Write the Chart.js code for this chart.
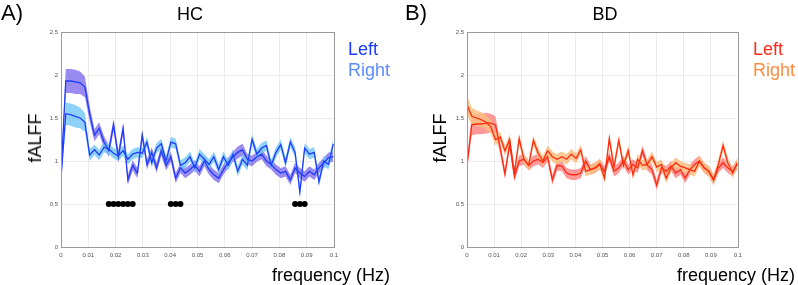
<!DOCTYPE html>
<html>
<head>
<meta charset="utf-8">
<script src="https://cdn.jsdelivr.net/npm/chart.js@4.4.0/dist/chart.umd.min.js"></script>
<style>
  body { margin: 0; background: #fff; }
  #wrap { position: relative; width: 798px; height: 285px; overflow: hidden; font-family: "Liberation Sans", Arial, sans-serif; }
  canvas { position: absolute; top: 0; }
  .lbl { position: absolute; white-space: nowrap; font-size: 18px; line-height: 18px; color: #000; }
  .ylab { transform: translate(-50%, -50%) rotate(-90deg); }
  .title { transform: translateX(-50%); }
</style>
</head>
<body>
<div id="wrap">
  <canvas id="chartHC" width="399" height="285" style="left:0"></canvas>
  <canvas id="chartBD" width="398" height="285" style="left:400px"></canvas>

  <div class="lbl" style="left:1px; top:2px; font-size:22px; line-height:22px">A)</div>
  <div class="lbl title" style="left:190px; top:5px">HC</div>
  <div class="lbl" style="left:348px; top:40px; color:#1a3cff">Left</div>
  <div class="lbl" style="left:348px; top:61px; color:#5b8cff">Right</div>
  <div class="lbl ylab" style="left:35px; top:138px">fALFF</div>
  <div class="lbl" style="left:272px; top:266px">frequency (Hz)</div>

  <div class="lbl" style="left:405px; top:2px; font-size:22px; line-height:22px">B)</div>
  <div class="lbl title" style="left:605px; top:5px">BD</div>
  <div class="lbl" style="left:753px; top:40px; color:#ff2a1a">Left</div>
  <div class="lbl" style="left:753px; top:61px; color:#ff8c3c">Right</div>
  <div class="lbl ylab" style="left:440px; top:138px">fALFF</div>
  <div class="lbl" style="left:677px; top:266px">frequency (Hz)</div>
</div>

<script>
const freqs = [
  0, 0.00175, 0.0035, 0.00525, 0.007, 0.00875, 0.0105, 0.01225, 0.014, 0.01575,
  0.0175, 0.01925, 0.021, 0.02275, 0.0245, 0.02625, 0.028, 0.02975, 0.0315, 0.03325,
  0.035, 0.03675, 0.0385, 0.04025, 0.042, 0.04375, 0.0455, 0.04725, 0.049, 0.05075,
  0.0525, 0.05425, 0.056, 0.05775, 0.0595, 0.06125, 0.063, 0.06475, 0.0665, 0.06825,
  0.07, 0.07175, 0.0735, 0.07525, 0.077, 0.07875, 0.0805, 0.08225, 0.084, 0.08575,
  0.0875, 0.08925, 0.091, 0.09275, 0.0945, 0.09625, 0.098, 0.09975
];

// significant left vs right differences (HC)
const sigFreqs = [0.0175, 0.01925, 0.021, 0.02275, 0.0245, 0.02625, 0.04025, 0.042, 0.04375, 0.08575, 0.0875, 0.08925];

const hcLeft = [
  0.84, 1.93, 1.93, 1.92, 1.91, 1.86, 1.55, 1.30, 1.38, 1.22,
  1.12, 1.42, 1.05, 1.38, 0.78, 0.95, 0.86, 1.30, 0.96, 1.10,
  0.92, 1.12, 0.95, 1.05, 0.80, 0.92, 0.86, 0.90, 0.95, 0.88,
  1.00, 0.90, 0.84, 0.80, 0.90, 0.98, 1.05, 1.10, 1.13, 1.02,
  1.00, 1.05, 1.08, 1.00, 0.96, 0.90, 0.86, 0.88, 0.78, 0.92,
  0.86, 0.82, 0.88, 0.84, 0.92, 0.98, 1.04, 1.05
];
const hcLeftSem = [
  0.03, 0.14, 0.14, 0.14, 0.13, 0.12, 0.09, 0.07, 0.07, 0.07,
  0.07, 0.07, 0.07, 0.06, 0.06, 0.06, 0.06, 0.06, 0.06, 0.06,
  0.06, 0.06, 0.06, 0.06, 0.06, 0.06, 0.06, 0.06, 0.06, 0.06,
  0.06, 0.06, 0.06, 0.06, 0.06, 0.06, 0.06, 0.07, 0.07, 0.06,
  0.06, 0.06, 0.06, 0.06, 0.06, 0.06, 0.06, 0.06, 0.06, 0.06,
  0.06, 0.06, 0.06, 0.06, 0.06, 0.06, 0.06, 0.06
];
const hcRight = [
  0.80, 1.55, 1.54, 1.52, 1.50, 1.45, 1.07, 1.13, 1.07, 1.16,
  1.14, 1.09, 1.06, 1.12, 1.02, 1.08, 1.10, 1.09, 1.22, 0.98,
  1.15, 1.20, 1.00, 1.22, 1.20, 0.95, 0.98, 1.05, 0.92, 1.08,
  1.02, 0.96, 1.05, 0.90, 1.05, 0.95, 1.08, 0.88, 1.02, 0.95,
  1.25, 1.08, 1.15, 1.18, 0.95, 1.10, 1.19, 0.98, 1.22, 1.10,
  0.64, 1.15, 1.08, 1.10, 0.76, 1.00, 0.96, 1.20
];
const hcRightSem = [
  0.03, 0.13, 0.13, 0.13, 0.12, 0.11, 0.07, 0.06, 0.06, 0.06,
  0.06, 0.06, 0.06, 0.06, 0.06, 0.06, 0.06, 0.06, 0.06, 0.06,
  0.06, 0.06, 0.06, 0.06, 0.06, 0.06, 0.06, 0.06, 0.06, 0.06,
  0.06, 0.06, 0.06, 0.06, 0.06, 0.06, 0.06, 0.06, 0.06, 0.06,
  0.06, 0.06, 0.06, 0.06, 0.06, 0.06, 0.06, 0.06, 0.06, 0.06,
  0.06, 0.06, 0.06, 0.06, 0.06, 0.06, 0.06, 0.06
];

const bdLeft = [
  0.95, 1.42, 1.43, 1.43, 1.44, 1.44, 1.42, 1.15, 0.85, 1.20,
  0.82, 1.00, 1.02, 0.95, 1.00, 1.02, 0.98, 1.05, 0.78, 0.95,
  0.94, 0.86, 0.84, 0.84, 0.86, 1.00, 0.90, 0.92, 0.96, 0.88,
  1.05, 0.88, 0.92, 1.00, 0.90, 0.96, 0.92, 1.12, 0.95, 0.90,
  0.72, 0.92, 0.88, 0.94, 0.86, 0.90, 0.80, 0.90, 0.96, 1.00,
  0.92, 0.88, 0.78, 0.92, 0.98, 0.92, 0.88, 0.96
];
const bdLeftSem = [
  0.05, 0.12, 0.12, 0.12, 0.12, 0.11, 0.10, 0.07, 0.06, 0.06,
  0.06, 0.06, 0.06, 0.06, 0.06, 0.06, 0.06, 0.06, 0.06, 0.06,
  0.06, 0.06, 0.06, 0.06, 0.06, 0.06, 0.06, 0.06, 0.06, 0.06,
  0.06, 0.06, 0.06, 0.06, 0.06, 0.06, 0.06, 0.06, 0.06, 0.06,
  0.06, 0.06, 0.06, 0.06, 0.06, 0.06, 0.06, 0.06, 0.06, 0.06,
  0.06, 0.06, 0.06, 0.06, 0.06, 0.06, 0.06, 0.06
];
const bdRight = [
  1.65, 1.52, 1.50, 1.48, 1.45, 1.40, 1.25, 1.28, 1.12, 1.25,
  0.86, 1.26, 1.02, 0.95, 1.24, 1.09, 1.00, 1.12, 1.05, 1.02,
  1.05, 1.02, 1.08, 1.03, 1.13, 0.88, 0.90, 0.92, 0.97, 0.80,
  1.26, 0.93, 1.24, 0.95, 1.12, 0.84, 1.02, 0.95, 0.96, 1.05,
  0.93, 0.96, 0.80, 0.92, 0.98, 0.94, 0.92, 0.90, 0.88, 1.00,
  0.92, 0.88, 0.78, 0.96, 1.18, 0.98, 0.86, 0.98
];
const bdRightSem = [
  0.11, 0.10, 0.09, 0.09, 0.08, 0.08, 0.07, 0.06, 0.06, 0.06,
  0.06, 0.06, 0.06, 0.06, 0.06, 0.06, 0.06, 0.06, 0.06, 0.06,
  0.06, 0.06, 0.06, 0.06, 0.06, 0.06, 0.06, 0.06, 0.06, 0.06,
  0.06, 0.06, 0.06, 0.06, 0.06, 0.06, 0.06, 0.06, 0.06, 0.06,
  0.06, 0.06, 0.06, 0.06, 0.06, 0.06, 0.06, 0.06, 0.06, 0.06,
  0.06, 0.06, 0.06, 0.06, 0.06, 0.06, 0.06, 0.06
];

const xTicks = [0, 0.01, 0.02, 0.03, 0.04, 0.05, 0.06, 0.07, 0.08, 0.09, 0.1];
const yTicks = [0, 0.5, 1, 1.5, 2, 2.5];

const fontFamily = '"Liberation Sans", Arial, sans-serif';

// grey box round the plot area, matlab style
const boxPlugin = {
  id: 'box',
  afterDraw(chart) {
    const a = chart.chartArea;
    const ctx = chart.ctx;
    ctx.save();
    ctx.strokeStyle = '#9a9a9a';
    ctx.lineWidth = 1;
    ctx.strokeRect(Math.round(a.left) + 0.5, Math.round(a.top) + 0.5, Math.round(a.right - a.left), Math.round(a.bottom - a.top));
    ctx.restore();
  }
};

function toPoints(values) {
  return freqs.map((f, i) => ({ x: f, y: values[i] }));
}

function bandDatasets(mean, sem, color, order) {
  const lower = freqs.map((f, i) => ({ x: f, y: mean[i] - sem[i] }));
  const upper = freqs.map((f, i) => ({ x: f, y: mean[i] + sem[i] }));
  return [
    { data: lower, borderWidth: 0, borderColor: 'rgba(0,0,0,0)', pointRadius: 0, fill: false, order: order },
    { data: upper, borderWidth: 0, borderColor: 'rgba(0,0,0,0)', pointRadius: 0, fill: '-1', backgroundColor: color, order: order }
  ];
}

function renderPanel(id, panel) {
  const ctx = document.getElementById(id).getContext('2d');

  const datasets = [
    { data: toPoints(panel.left), borderColor: panel.line, borderWidth: 1.3, pointRadius: 0, fill: false, order: 1 },
    { data: toPoints(panel.right), borderColor: panel.line, borderWidth: 1.3, pointRadius: 0, fill: false, order: 1 }
  ]
    .concat(bandDatasets(panel.right, panel.rightSem, panel.rightBand, 2))
    .concat(bandDatasets(panel.left, panel.leftSem, panel.leftBand, 3));

  if (panel.sig) {
    datasets.unshift({
      data: panel.sig.map(f => ({ x: f, y: 0.5 })),
      showLine: false,
      pointRadius: 3,
      pointBackgroundColor: '#000',
      pointBorderWidth: 0,
      order: 0
    });
  }

  return new Chart(ctx, {
    type: 'line',
    data: { datasets: datasets },
    options: {
      responsive: false,
      animation: false,
      devicePixelRatio: 1,
      layout: { autoPadding: false, padding: { top: 32, right: panel.padRight, left: 0, bottom: 0 } },
      plugins: { legend: { display: false }, tooltip: { enabled: false } },
      elements: { line: { tension: 0 } },
      scales: {
        x: {
          type: 'linear',
          min: 0,
          max: 0.1,
          afterFit: s => { s.height = 38; },
          afterBuildTicks: s => { s.ticks = xTicks.map(v => ({ value: v })); },
          border: { display: false },
          grid: { color: '#ececec', drawTicks: false },
          ticks: {
            padding: 5,
            maxRotation: 0,
            autoSkip: false,
            color: '#555',
            font: { size: 6, family: fontFamily },
            callback: v => String(Math.round(v * 100) / 100)
          }
        },
        y: {
          min: 0,
          max: 2.5,
          afterFit: s => { s.width = panel.yWidth; },
          afterBuildTicks: s => { s.ticks = yTicks.map(v => ({ value: v })); },
          border: { display: false },
          grid: { color: '#ececec', drawTicks: false },
          ticks: {
            padding: 3,
            color: '#555',
            font: { size: 6, family: fontFamily },
            callback: v => String(v)
          }
        }
      }
    },
    plugins: [boxPlugin]
  });
}

renderPanel('chartHC', {
  left: hcLeft, leftSem: hcLeftSem, right: hcRight, rightSem: hcRightSem,
  line: '#1f3cff', leftBand: 'rgba(128,110,236,0.8)', rightBand: 'rgba(112,196,246,0.8)',
  sig: sigFreqs, yWidth: 61, padRight: 65
});

renderPanel('chartBD', {
  left: bdLeft, leftSem: bdLeftSem, right: bdRight, rightSem: bdRightSem,
  line: '#ff2a10', leftBand: 'rgba(255,128,128,0.8)', rightBand: 'rgba(251,192,130,0.85)',
  sig: null, yWidth: 67, padRight: 60
});
</script>
</body>
</html>
